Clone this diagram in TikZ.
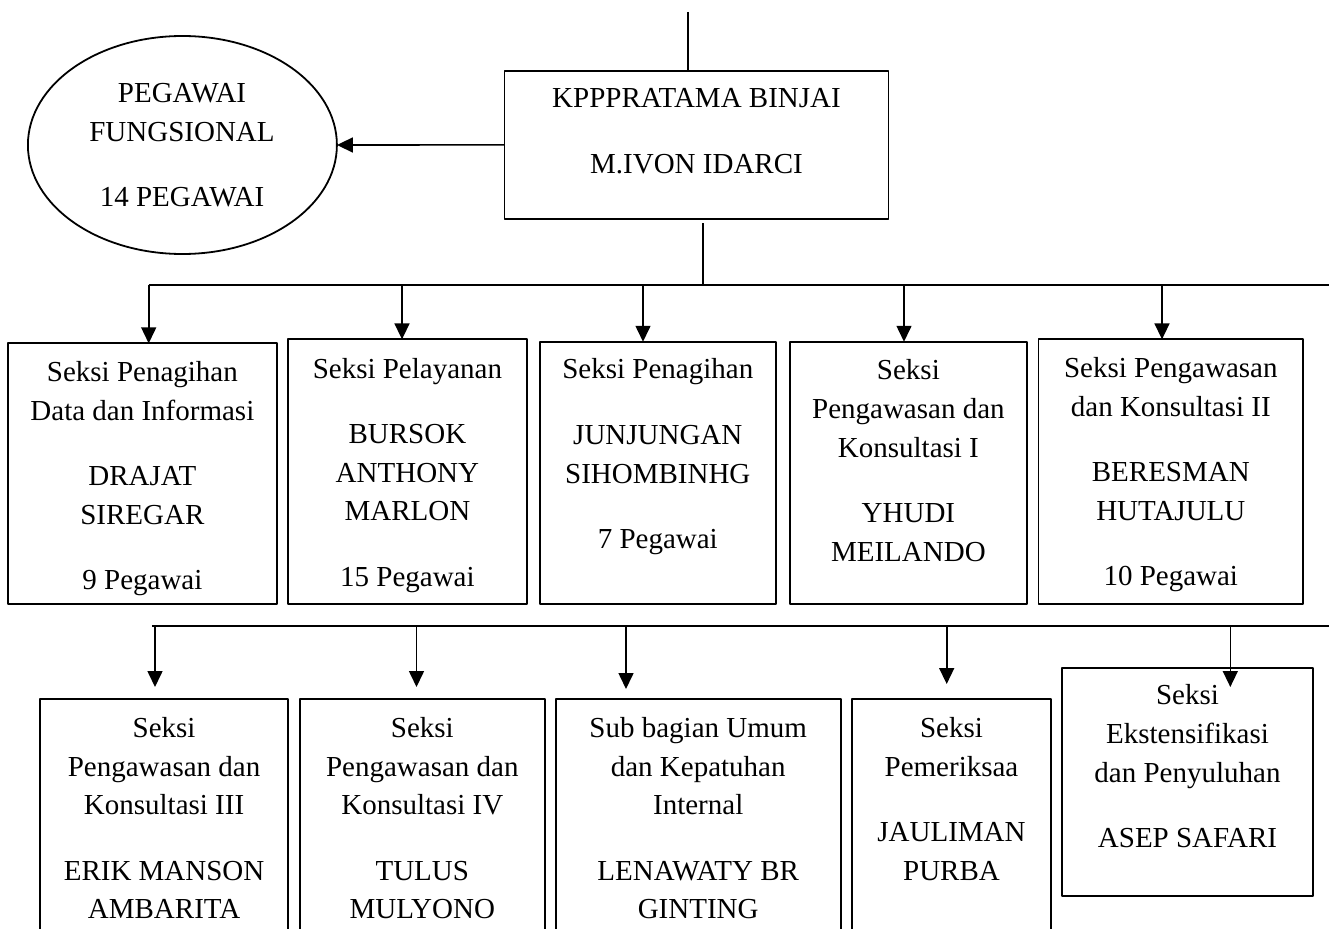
\documentclass[tikz,border=0pt]{standalone}
\usepackage{fontspec}
\setmainfont{Liberation Serif}
\usetikzlibrary{arrows.meta,shapes.geometric}
\begin{document}
\begin{tikzpicture}[x=1pt,y=-1pt,>={Triangle[length=16pt,width=15pt]},line join=round,
	box/.style={draw,line width=1.8pt,inner sep=0pt,outer sep=0pt},
	txt/.style={align=center,anchor=north,inner sep=0pt,font=\fontsize{29}{38.6}\selectfont},
	lin/.style={line width=1.6pt}]
	\useasboundingbox (0,0) rectangle (1329,928);
	\clip (0,0) rectangle (1329,928);
	% kepala kantor dan pegawai fungsional
	\node[box,minimum width=384.1pt,minimum height=148.3pt] (kpp) at (696.5,144.9) {};
	\node[txt] (kpptxt) at (696.5,88.5) {KPPPRATAMA BINJAI\\[27pt] M.IVON IDARCI};
	\node[box,ellipse,minimum width=309pt,minimum height=218pt] (fung) at (182.4,145) {};
	\node[txt] (fungtxt) at (182,83.2) {PEGAWAI\\FUNGSIONAL\\[27pt] 14 PEGAWAI};
	\coordinate (top) at (688,12);
	\draw[lin] (top) -- (top |- kpp.north);
	\draw[lin,->] (kpp.west) -- (fung.east);
	% baris pertama
	\node[box,minimum width=268.8pt,minimum height=260.7pt] (b1) at (142.4,473.7) {};
	\node[txt] (t1) at (142.4,361.2) {Seksi Penagihan\\Data dan Informasi\\[27pt] DRAJAT\\SIREGAR\\[27pt] 9 Pegawai};
	\node[box,minimum width=238.8pt,minimum height=264.7pt] (b2) at (407.4,471.7) {};
	\node[txt] (t2) at (407.4,357.8) {Seksi Pelayanan\\[27pt] BURSOK\\ANTHONY\\MARLON\\[27pt] 15 Pegawai};
	\node[box,minimum width=235.6pt,minimum height=262.3pt] (b3) at (657.8,472.9) {};
	\node[txt] (t3) at (657.8,358.5) {Seksi Penagihan\\[27pt] JUNJUNGAN\\SIHOMBINHG\\[27pt] 7 Pegawai};
	\node[box,minimum width=236.9pt,minimum height=262.3pt] (b4) at (908.4,472.9) {};
	\node[txt] (t4) at (908.4,359.5) {Seksi\\Pengawasan dan\\Konsultasi I\\[27pt] YHUDI\\MEILANDO};
	\node[box,minimum width=264.5pt,minimum height=264.7pt] (b5) at (1170.8,471.7) {};
	\node[txt] (t5) at (1170.8,357.2) {Seksi Pengawasan\\dan Konsultasi II\\[27pt] BERESMAN\\HUTAJULU\\[27pt] 10 Pegawai};
	\coordinate (kb) at ([yshift=-4pt]kpp.south);
	\coordinate (j1) at (702.8,285);
	\draw[lin] (kb -| j1) -- (j1);
	\coordinate (bus1L) at (148.7,285);
	\coordinate (bus1R) at (1329,285);
	\draw[lin] (bus1L) -- (bus1R);
	\foreach \n/\x in {1/148.7,2/402,3/643,4/904,5/1162}
	{\coordinate (d\n) at (\x,285);
		\draw[lin,->] (d\n) -- (d\n |- b\n.north);}
	% baris kedua
	\node[box,minimum width=247.8pt,minimum height=241pt] (b6) at (164.1,819.5) {};
	\node[txt] (t6) at (164.1,717.2) {Seksi\\Pengawasan dan\\Konsultasi III\\[27pt] ERIK MANSON\\AMBARITA};
	\node[box,minimum width=244.6pt,minimum height=241pt] (b7) at (422.3,819.5) {};
	\node[txt] (t7) at (422.3,717.2) {Seksi\\Pengawasan dan\\Konsultasi IV\\[27pt] TULUS\\MULYONO};
	\node[box,minimum width=284.8pt,minimum height=241pt] (b8) at (698.2,819.5) {};
	\node[txt] (t8) at (698.2,717.2) {Sub bagian Umum\\dan Kepatuhan\\Internal\\[27pt] LENAWATY BR\\GINTING};
	\node[box,minimum width=198.3pt,minimum height=241pt] (b9) at (951.5,819.5) {};
	\node[txt] (t9) at (951.5,717.2) {Seksi\\Pemeriksaa\\[27pt] JAULIMAN\\PURBA};
	\node[box,minimum width=250.3pt,minimum height=228pt] (b10) at (1187.5,781.7) {};
	\node[txt] (t10) at (1187.5,684.5) {Seksi\\Ekstensifikasi\\dan Penyuluhan\\[27pt] ASEP SAFARI};
	\coordinate (bus2L) at (151.8,626);
	\coordinate (bus2R) at (1329,626);
	\draw[lin] (bus2L) -- (bus2R);
	\foreach \n/\x/\y in {1/155/687,2/416.5/687,3/626/689,4/946.7/684,5/1230.3/687}
	{\coordinate (e\n) at (\x,626);
		\coordinate (f\n) at (\x,\y);
		\draw[lin,->] (e\n) -- (f\n);}
\end{tikzpicture}
\end{document}
